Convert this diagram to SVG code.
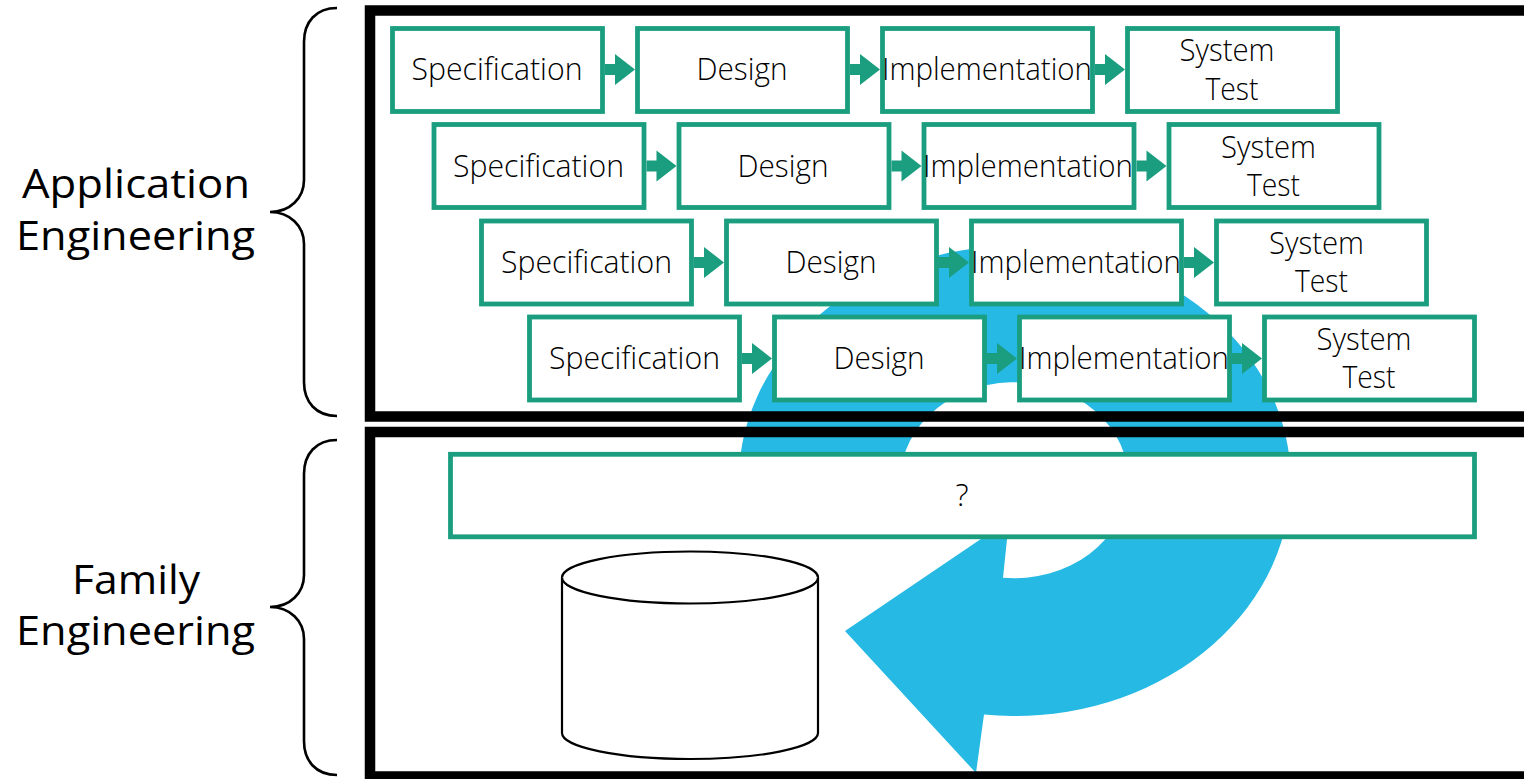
<svg xmlns="http://www.w3.org/2000/svg" width="1524" height="779" viewBox="0 0 1524 779">
<style>
.box{fill:#fff;stroke:#1A9E7F;stroke-width:4.8}
.t{font-family:"Open Sans","Noto Sans","DejaVu Sans",sans-serif;font-size:31px;font-weight:300;fill:#000;text-anchor:middle}
.big{font-family:"Open Sans","Noto Sans","DejaVu Sans",sans-serif;font-size:41px;fill:#000;text-anchor:middle}
.panel{fill:none;stroke:#000;stroke-width:10.5}
.brace{fill:none;stroke:#000;stroke-width:2.6}
.cyl{fill:#fff;stroke:#000;stroke-width:2.2}
.arr{fill:#1A9E7F}
</style>
<defs>
<path id="a" class="arr" d="M0,-5.5H10V-15.5L30,0L10,15.5V5.500H0Z"/>
</defs>
<path id="cycle-arrow" fill="#26B9E3" d="M739,490A276 235 0 1 1 984,714.5L976,773L845,631L1009,520L1003,577.7A114 98 0 1 0 901,490Z"/>
<g id="panel-application"><rect class="panel" x="370" y="10.5" width="1300" height="406"/></g>
<g id="panel-family"><rect class="panel" x="370" y="432" width="1300" height="344.500"/></g>
<g id="brace-application"><path class="brace" d="M337,8C316,8 304,22 304,42V180C304,198 290,212 270,212C290,212 304,226 304,244V382C304,402 316,416 337,416"/></g>
<g id="brace-family"><path class="brace" d="M337,440C316,440 304,454 304,474V575C304,593 290,607 270,607C290,607 304,621 304,639V741C304,761 316,775 337,775"/></g>
<g id="label-application"><text class="big" x="136" y="198" textLength="228" lengthAdjust="spacingAndGlyphs">Application</text><text class="big" x="135.500" y="250" textLength="239" lengthAdjust="spacingAndGlyphs">Engineering</text></g>
<g id="label-family"><text class="big" x="136" y="594" textLength="128" lengthAdjust="spacingAndGlyphs">Family</text><text class="big" x="135.500" y="645" textLength="239" lengthAdjust="spacingAndGlyphs">Engineering</text></g>
<g id="connectors">
<use href="#a" x="605" y="69.500"/><use href="#a" x="850" y="69.500"/><use href="#a" x="1095" y="69.500"/>
<use href="#a" x="646.500" y="166"/><use href="#a" x="891.500" y="166"/><use href="#a" x="1136.500" y="166"/>
<use href="#a" x="694" y="262.500"/><use href="#a" x="939" y="262.500"/><use href="#a" x="1184" y="262.500"/>
<use href="#a" x="742" y="358.500"/><use href="#a" x="987" y="358.500"/><use href="#a" x="1232" y="358.500"/>
</g>
<g id="r1-spec"><rect class="box" x="392.500" y="28.500" width="210" height="83"/><text class="t" x="497" y="80" textLength="171" lengthAdjust="spacingAndGlyphs">Specification</text></g>
<g id="r1-design"><rect class="box" x="637.500" y="28.500" width="210" height="83"/><text class="t" x="742" y="80" textLength="91" lengthAdjust="spacingAndGlyphs">Design</text></g>
<g id="r1-impl"><rect class="box" x="882.500" y="28.500" width="210" height="83"/><text class="t" x="987" y="80" textLength="210" lengthAdjust="spacingAndGlyphs">Implementation</text></g>
<g id="r1-test"><rect class="box" x="1127.500" y="28.500" width="210" height="83"/><text class="t" x="1227" y="61" textLength="95" lengthAdjust="spacingAndGlyphs">System</text><text class="t" x="1232" y="100" textLength="53" lengthAdjust="spacingAndGlyphs">Test</text></g>
<g id="r2-spec"><rect class="box" x="434" y="124.500" width="210" height="83"/><text class="t" x="538.500" y="177" textLength="171" lengthAdjust="spacingAndGlyphs">Specification</text></g>
<g id="r2-design"><rect class="box" x="679" y="124.500" width="210" height="83"/><text class="t" x="783" y="177" textLength="91" lengthAdjust="spacingAndGlyphs">Design</text></g>
<g id="r2-impl"><rect class="box" x="924" y="124.500" width="210" height="83"/><text class="t" x="1028" y="177" textLength="210" lengthAdjust="spacingAndGlyphs">Implementation</text></g>
<g id="r2-test"><rect class="box" x="1169" y="124.500" width="210" height="83"/><text class="t" x="1268.500" y="158" textLength="95" lengthAdjust="spacingAndGlyphs">System</text><text class="t" x="1273.500" y="196" textLength="53" lengthAdjust="spacingAndGlyphs">Test</text></g>
<g id="r3-spec"><rect class="box" x="481.500" y="221" width="210" height="83"/><text class="t" x="586.500" y="273" textLength="171" lengthAdjust="spacingAndGlyphs">Specification</text></g>
<g id="r3-design"><rect class="box" x="726.500" y="221" width="210" height="83"/><text class="t" x="831" y="273" textLength="91" lengthAdjust="spacingAndGlyphs">Design</text></g>
<g id="r3-impl"><rect class="box" x="971.500" y="221" width="210" height="83"/><text class="t" x="1076" y="273" textLength="210" lengthAdjust="spacingAndGlyphs">Implementation</text></g>
<g id="r3-test"><rect class="box" x="1216.500" y="221" width="210" height="83"/><text class="t" x="1316.500" y="254" textLength="95" lengthAdjust="spacingAndGlyphs">System</text><text class="t" x="1321.500" y="292" textLength="53" lengthAdjust="spacingAndGlyphs">Test</text></g>
<g id="r4-spec"><rect class="box" x="529.500" y="317" width="210" height="83"/><text class="t" x="634.500" y="369" textLength="171" lengthAdjust="spacingAndGlyphs">Specification</text></g>
<g id="r4-design"><rect class="box" x="774.500" y="317" width="210" height="83"/><text class="t" x="879" y="369" textLength="91" lengthAdjust="spacingAndGlyphs">Design</text></g>
<g id="r4-impl"><rect class="box" x="1019.500" y="317" width="210" height="83"/><text class="t" x="1124" y="369" textLength="210" lengthAdjust="spacingAndGlyphs">Implementation</text></g>
<g id="r4-test"><rect class="box" x="1264.500" y="317" width="210" height="83"/><text class="t" x="1364" y="350" textLength="95" lengthAdjust="spacingAndGlyphs">System</text><text class="t" x="1369" y="388" textLength="53" lengthAdjust="spacingAndGlyphs">Test</text></g>
<g id="family-box"><rect class="box" x="450.500" y="454.300" width="1024" height="82.500"/><text class="t" x="962" y="506">?</text></g>
<g id="repository"><path class="cyl" d="M562,577.500A128 26 0 0 1 818,577.500V733A128 26 0 0 1 562,733Z"/><path class="cyl" fill="none" d="M562,577.500A128 26 0 0 0 818,577.500"/></g>
</svg>
